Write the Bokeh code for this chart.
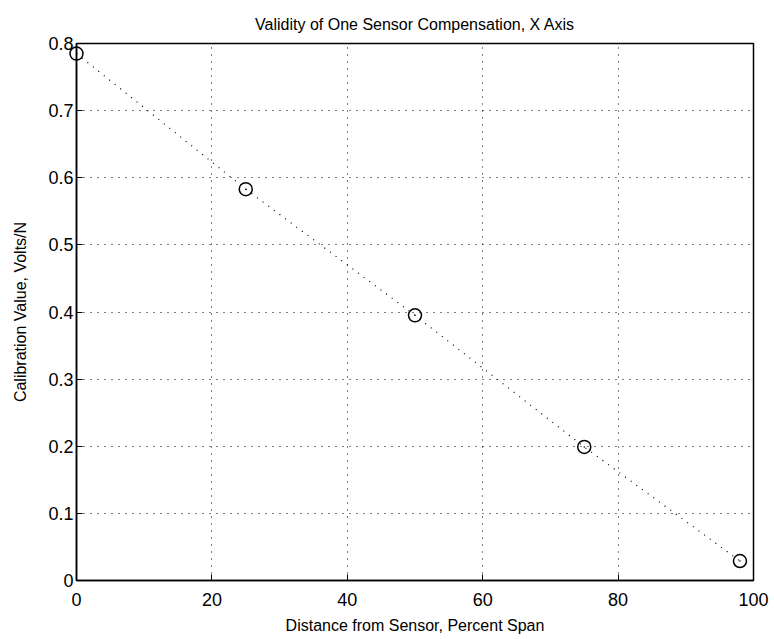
from bokeh.plotting import figure
from bokeh.models import FixedTicker, Range1d
from bokeh.embed import file_html
from bokeh.resources import INLINE

distance = [0, 25, 50, 75, 98]
calibration = [0.785, 0.583, 0.395, 0.199, 0.029]
x_ticks = [0, 20, 40, 60, 80, 100]
y_ticks = [0, 0.1, 0.2, 0.3, 0.4, 0.5, 0.6, 0.7, 0.8]

FONT = "Liberation Sans"

p = figure(width=774, height=639, output_backend="svg", toolbar_location=None,
           x_range=Range1d(0, 100), y_range=Range1d(0, 0.8),
           min_border_left=76, min_border_right=21, min_border_top=43, min_border_bottom=59,
           title="Validity of One Sensor Compensation, X Axis")
p.title.align = "center"
p.title.text_font = FONT
p.title.text_font_size = "16px"
p.title.text_font_style = "normal"
p.title.text_color = "black"
p.title.offset = 0
p.title.standoff = 22

p.outline_line_color = "black"
p.outline_line_width = 1.5
p.background_fill_color = "white"
p.border_fill_color = "white"

for ax in (p.xaxis[0], p.yaxis[0]):
    ax.axis_line_color = "black"
    ax.axis_line_width = 1.5
    ax.major_tick_line_color = "black"
    ax.major_tick_in = 6
    ax.major_tick_out = 0
    ax.minor_tick_line_color = None
    ax.major_label_text_font = FONT
    ax.major_label_text_font_size = "18px"
    ax.major_label_text_color = "black"
    ax.axis_label_text_font = FONT
    ax.axis_label_text_font_size = "16px"
    ax.axis_label_text_font_style = "normal"
    ax.axis_label_text_color = "black"

p.xaxis[0].ticker = FixedTicker(ticks=x_ticks)
p.yaxis[0].ticker = FixedTicker(ticks=y_ticks)
p.yaxis[0].major_label_overrides = {0: "0"}
p.xaxis[0].axis_label = "Distance from Sensor, Percent Span"
p.yaxis[0].axis_label = "Calibration Value, Volts/N"
p.xaxis[0].major_label_standoff = 12
p.yaxis[0].major_label_standoff = 3
p.xaxis[0].axis_label_standoff = 8
p.yaxis[0].axis_label_standoff = 16

p.xgrid.ticker = FixedTicker(ticks=x_ticks)
p.ygrid.ticker = FixedTicker(ticks=y_ticks)
for g in (p.xgrid[0], p.ygrid[0]):
    g.grid_line_color = "black"
    g.grid_line_dash = "1 6"
    g.grid_line_width = 1

p.line(distance, calibration, line_color="black", line_dash="1 6", line_width=1.2)
p.scatter(distance, calibration, marker="circle", size=13, fill_color=None,
          line_color="black", line_width=1.5, level="overlay")
p.scatter(distance, calibration, marker="dot", size=6, fill_color=None,
          line_color="black", line_width=1, level="overlay")

open("out.html", "w").write(file_html(p, INLINE))
